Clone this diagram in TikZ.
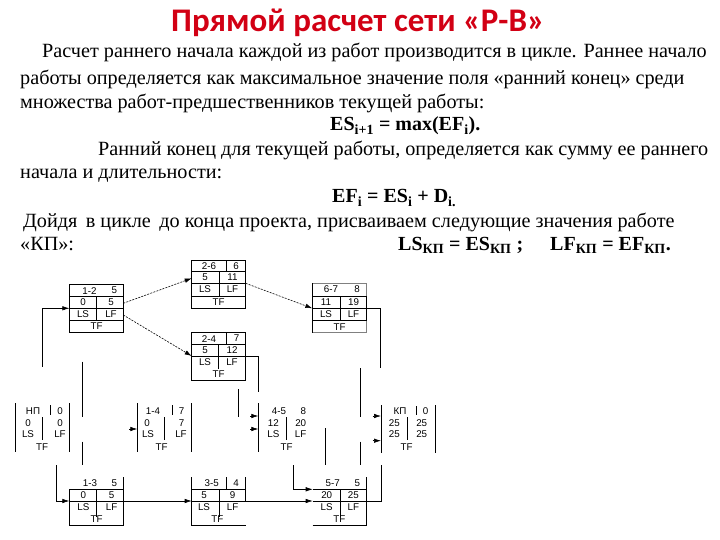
\documentclass[tikz,border=0pt]{standalone}
\usepackage{fontspec}
\setmainfont{Liberation Serif}
\newfontfamily\diagfont{Liberation Sans}
\newfontfamily\titlefont{Carlito}
\usetikzlibrary{arrows.meta}
\definecolor{titlered}{RGB}{210,0,20}

\begin{document}
\begin{tikzpicture}[x=1pt, y=-1pt,
    cell/.style={font=\diagfont\fontsize{9.8}{10}\selectfont, inner sep=0pt},
    txt/.style={anchor=base west, inner sep=0pt, font=\fontsize{20.2}{22}\selectfont},
    frm/.style={txt, font=\fontsize{20}{22}\selectfont\bfseries},
    grid/.style={line width=0.6pt},
    link/.style={line width=0.6pt, -{Latex[length=7pt, width=4.5pt]}},
    dots/.style={link, dash pattern=on 2pt off 1.2pt}]

    \useasboundingbox (0,0) rectangle (720,540);

    % 1. Заголовок и текст
    \node[inner sep=0pt, anchor=base, font=\titlefont\bfseries\fontsize{33}{36}\selectfont, text=titlered] (title) at (358,32) {Прямой расчет сети «Р-В»};
    \node[txt] (l1) at (42,58) {Расчет раннего начала каждой из работ производится в цикле. Раннее начало};
    \node[txt] (l2) at (20,85) {работы определяется как максимальное значение поля «ранний конец» среди};
    \node[txt] (l3) at (20,109) {множества работ-предшественников текущей работы:};
    \node[frm] (f1) at (330,131) {ES\textsubscript{i+1} = max(EF\textsubscript{i}).};
    \node[txt] (l5) at (98,156) {Ранний конец для текущей работы, определяется как сумму ее раннего};
    \node[txt] (l6) at (20,179) {начала и длительности:};
    \node[frm] (f2) at (332,203) {EF\textsubscript{i} = ES\textsubscript{i} + D\textsubscript{i.}};
    \node[txt] (l8) at (23,227) {Дойдя\, в цикле\, до конца проекта, присваиваем следующие значения работе};
    \node[txt] (l9) at (20,250) {«КП»:};
    \node[frm] (f3) at (398,250) {LS\textsubscript{КП} = ES\textsubscript{КП} ;};
    \node[frm] (f4) at (550,250) {LF\textsubscript{КП} = EF\textsubscript{КП}.};

    % 2. Работа 1-2
    \draw[grid] (69.3,284.5) rectangle (123.3,332.3);
    \draw[grid] (69.3,296.7) -- (123.3,296.7) (69.3,308.3) -- (123.3,308.3) (69.3,320.7) -- (123.3,320.7) (96.7,296.7) -- (96.7,320.7);
    \node[cell] (a12) at (89.5,290.6) {1-2}; \node[cell] (d12) at (114.3,290.6) {5};
    \node[cell] (es12) at (83,302.5) {0}; \node[cell] (ef12) at (111,302.5) {5};
    \node[cell] (ls12) at (83,314.5) {LS}; \node[cell] (lf12) at (111,314.5) {LF};
    \node[cell] (tf12) at (96.5,326.5) {TF};

    % 3. Работа 2-6
    \draw[grid] (191.7,260) rectangle (245.7,308.3);
    \draw[grid] (191.7,271.7) -- (245.7,271.7) (191.7,283.3) -- (245.7,283.3) (191.7,296) -- (245.7,296) (226,260) -- (226,271.7) (219,271.7) -- (219,296);
    \node[cell] (a26) at (209,265.8) {2-6}; \node[cell] (d26) at (236,265.8) {6};
    \node[cell] (es26) at (205,277.5) {5}; \node[cell] (ef26) at (232.5,277.5) {11};
    \node[cell] (ls26) at (205,289.6) {LS}; \node[cell] (lf26) at (232.5,289.6) {LF};
    \node[cell] (tf26) at (218.7,302.1) {TF};

    % 4. Работа 2-4
    \draw[grid] (191.7,332.7) rectangle (245.7,380.5);
    \draw[grid] (191.7,344.5) -- (245.7,344.5) (191.7,356) -- (245.7,356) (226.7,332.7) -- (226.7,344.5) (218.3,344.5) -- (218.3,368.5);
    \node[cell] (a24) at (209,338.6) {2-4}; \node[cell] (d24) at (236.5,338.6) {7};
    \node[cell] (es24) at (205,350.2) {5}; \node[cell] (ef24) at (232,350.2) {12};
    \node[cell] (ls24) at (205,362.2) {LS}; \node[cell] (lf24) at (232,362.2) {LF};
    \node[cell] (tf24) at (218.7,374.5) {TF};

    % 5. Работа 6-7
    \draw[grid, gray] (312.3,283.3) -- (366.7,283.3) -- (366.7,296) (366.7,320.7) -- (366.7,332.7) -- (312.3,332.7);
    \draw[grid] (312.3,283.3) -- (312.3,332.7) (312.3,296) -- (366.7,296) -- (366.7,320.7) (312.3,308.3) -- (366.7,308.3) (312.3,320.7) -- (366.7,320.7) (340,296) -- (340,320.7);
    \node[cell] (a67) at (331,289.6) {6-7}; \node[cell] (d67) at (357,289.6) {8};
    \node[cell] (es67) at (326,302.1) {11}; \node[cell] (ef67) at (353.5,302.1) {19};
    \node[cell] (ls67) at (326,314.5) {LS}; \node[cell] (lf67) at (353.5,314.5) {LF};
    \node[cell] (tf67) at (339.5,326.7) {TF};

    % 6. Работа НП
    \draw[grid] (15.7,403) -- (15.7,452) (69.3,403) -- (69.3,452) (50,405) -- (50,415) (42.7,417) -- (42.7,440);
    \node[cell] (anp) at (33,411) {НП}; \node[cell] (dnp) at (60,411) {0};
    \node[cell] (esnp) at (28,423) {0}; \node[cell] (efnp) at (60,423) {0};
    \node[cell] (lsnp) at (28,434.5) {LS}; \node[cell] (lfnp) at (60,434.5) {LF};
    \node[cell] (tfnp) at (42,447) {TF};

    % 7. Работа 1-4
    \draw[grid] (137.3,403) -- (137.3,452) (191.7,403) -- (191.7,452) (172.7,405) -- (172.7,415) (164,417) -- (164,440);
    \node[cell] (a14) at (153,411) {1-4}; \node[cell] (d14) at (181.7,411) {7};
    \node[cell] (es14) at (147,423) {0}; \node[cell] (ef14) at (181.7,423) {7};
    \node[cell] (ls14) at (148,434.5) {LS}; \node[cell] (lf14) at (181,434.5) {LF};
    \node[cell] (tf14) at (161.7,447) {TF};

    % 8. Работа 4-5
    \draw[grid] (258.3,403) -- (258.3,452) (286,417) -- (286,440);
    \node[cell] (a45) at (279,411) {4-5}; \node[cell] (d45) at (303.3,411) {8};
    \node[cell] (es45) at (273.3,423) {12}; \node[cell] (ef45) at (300.7,423) {20};
    \node[cell] (ls45) at (273.3,434.5) {LS}; \node[cell] (lf45) at (300.7,434.5) {LF};
    \node[cell] (tf45) at (286.7,447) {TF};

    % 9. Работа КП
    \draw[grid] (381,405) -- (381,453) (435,405) -- (435,453) (416.7,406) -- (416.7,415) (407.3,417) -- (407.3,440);
    \node[cell] (akp) at (400,411) {КП}; \node[cell] (dkp) at (425.7,411) {0};
    \node[cell] (eskp) at (394.3,423) {25}; \node[cell] (efkp) at (421.7,423) {25};
    \node[cell] (lskp) at (394.3,434.5) {25}; \node[cell] (lfkp) at (421.7,434.5) {25};
    \node[cell] (tfkp) at (406.7,447) {TF};

    % 10. Работы 1-3, 3-5, 5-7
    \draw[grid] (69.3,489.3) -- (69.3,525) -- (123.3,525) -- (123.3,477) (69.3,489.3) -- (123.3,489.3) (96.7,489.3) -- (96.7,517);
    \node[cell] (a13) at (90,483) {1-3}; \node[cell] (d13) at (114.3,483) {5};
    \node[cell] (es13) at (83.3,495.3) {0}; \node[cell] (ef13) at (111.7,495.3) {5};
    \node[cell] (ls13) at (83.3,507) {LS}; \node[cell] (lf13) at (111.7,507) {LF};
    \node[cell] (tf13) at (96.7,519.3) {TF};

    \draw[grid] (191.7,477) -- (191.7,525) -- (245.7,525) (245.7,477) -- (245.7,501) (191.7,489.3) -- (245.7,489.3) (226.7,477) -- (226.7,489.3) (219.3,489.3) -- (219.3,517);
    \node[cell] (a35) at (211.7,483) {3-5}; \node[cell] (d35) at (236,483) {4};
    \node[cell] (es35) at (204,495.3) {5}; \node[cell] (ef35) at (232.7,495.3) {9};
    \node[cell] (ls35) at (204,507) {LS}; \node[cell] (lf35) at (232.7,507) {LF};
    \node[cell] (tf35) at (217.3,519.3) {TF};

    \draw[grid] (312.7,525) -- (366.7,525) -- (366.7,477) (312.7,489.3) -- (366.7,489.3) (340,489.3) -- (340,517);
    \node[cell] (a57) at (332.7,483) {5-7}; \node[cell] (d57) at (357.3,483) {5};
    \node[cell] (es57) at (326.7,495.3) {20}; \node[cell] (ef57) at (353.3,495.3) {25};
    \node[cell] (ls57) at (326.7,507) {LS}; \node[cell] (lf57) at (353.3,507) {LF};
    \node[cell] (tf57) at (339.3,519.3) {TF};

    % 11. Точки связей
    \coordinate (o12a) at (123.3,303.3); \coordinate (o12b) at (123.3,315);
    \coordinate (i26) at (191.7,278.3); \coordinate (i24) at (191.7,356);
    \coordinate (o26) at (245.7,283.3); \coordinate (i67) at (312.3,308.3);
    \coordinate (i12) at (69.3,308.3); \coordinate (s12) at (42.3,366.7);
    \coordinate (o24) at (245.7,356); \coordinate (e24) at (258.3,392);
    \coordinate (o67) at (366.7,308.3); \coordinate (e67) at (380,368.3);
    \coordinate (i13) at (69.3,501); \coordinate (s13) at (56.7,465);
    \coordinate (o13) at (123.3,501); \coordinate (i35) at (191.7,501);
    \coordinate (o35) at (245.7,501); \coordinate (i57) at (312.7,501);
    \coordinate (j57) at (312.7,489.3); \coordinate (s57) at (293.3,465);
    \coordinate (o57) at (366.7,501); \coordinate (e57) at (381,465);

    % 12. Связи
    \draw[dots] (o12a) -- (i26);
    \draw[dots] (o12b) -- (i24);
    \draw[dots] (o26) -- (i67);
    \draw[link] (s12) |- (i12);
    \draw[grid] (o24) -| (e24);
    \draw[grid] (o67) -| (e67);
    \draw[link] (s13) |- (i13);
    \draw[grid] (i13) -- (o13) (i35) -- (o35) (i57) -- (o57);
    \draw[link] (o13) -- (i35);
    \draw[link] (o35) -- (i57);
    \draw[link] (s57) |- (j57);
    \draw[grid] (o57) -| (e57);

    % 13. Обрывки линий и стрелки
    \draw[grid] (82.7,361.7) -- (82.7,416.7) (82.7,441.7) -- (82.7,465);
    \draw[grid] (238.3,389) -- (238.3,416.7);
    \draw[grid] (360,368) -- (360,416.7) (360,441.7) -- (360,465);
    \draw[grid] (325.7,428) -- (325.7,465);
    \draw[link] (129,429) -- (137.3,429);
    \draw[link] (250,416) -- (258.3,416);
    \draw[link] (250,429) -- (258.3,429);
    \draw[link] (372.7,416) -- (381,416);
    \draw[link] (372.7,440.7) -- (381,440.7);

\end{tikzpicture}
\end{document}
